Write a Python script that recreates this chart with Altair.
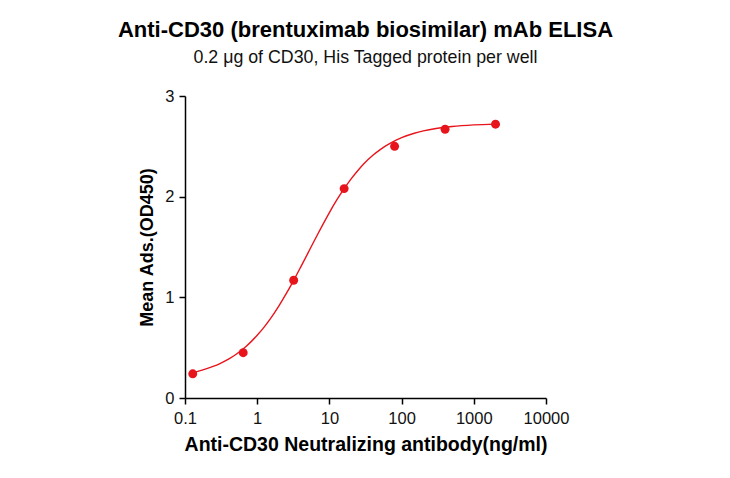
import altair as alt
import pandas as pd

# measured points (5-fold dilution series)
conc = [0.128, 0.64, 3.2, 16, 80, 400, 2000]
od = [0.24, 0.45, 1.17, 2.08, 2.50, 2.67, 2.72]
err = [0.04, 0.02, 0.02, 0.02, 0.02, 0.01, 0.01]

# fitted curve
curve_x = [0.128, 0.15, 0.2, 0.25, 0.3, 0.4, 0.5, 0.7, 1, 1.2, 1.5, 2, 2.5, 3, 4,
           5, 6, 7, 8, 10, 12, 15, 20, 25, 30, 40, 50, 70, 100, 150, 200, 300,
           500, 1000, 2000]
curve_y = [0.254, 0.265, 0.291, 0.316, 0.340, 0.386, 0.430, 0.512, 0.623, 0.689,
           0.781, 0.916, 1.032, 1.132, 1.30, 1.434, 1.545, 1.637, 1.715, 1.842,
           1.940, 2.05, 2.177, 2.263, 2.327, 2.411, 2.465, 2.531, 2.586, 2.630,
           2.653, 2.677, 2.697, 2.713, 2.721]

x_ticks = [0.1, 1, 10, 100, 1000, 10000]
y_ticks = [0, 1, 2, 3]

pts = pd.DataFrame({"x": conc, "y": od,
                    "lo": [v - e for v, e in zip(od, err)],
                    "hi": [v + e for v, e in zip(od, err)]})
cur = pd.DataFrame({"x": curve_x, "y": curve_y})

FONT = "Liberation Sans"
RED = "#e8141c"

xs = alt.Scale(type="log", domain=[0.1, 10000])
ys = alt.Scale(domain=[0, 3])

xaxis = alt.Axis(values=x_ticks, labelExpr="format(datum.value, '~g')",
                 title="Anti-CD30 Neutralizing antibody(ng/ml)", grid=False,
                 domainColor="#000", domainWidth=1.5, tickColor="#000",
                 tickWidth=1.5, tickSize=6, labelFontSize=16.5, labelColor="#111",
                 labelFont=FONT, titleFont=FONT, titleFontSize=19.5,
                 titleFontWeight="bold", titleColor="#000", labelPadding=6,
                 titlePadding=9, labelFlush=False, labelOverlap=False)
yaxis = alt.Axis(values=y_ticks, format="d", title="Mean Ads.(OD450)", grid=False,
                 domainColor="#000", domainWidth=1.5, tickColor="#000",
                 tickWidth=1.5, tickSize=6, labelFontSize=16.5, labelColor="#111",
                 labelFont=FONT, titleFont=FONT, titleFontSize=18,
                 titleFontWeight="bold", titleColor="#000", labelPadding=5,
                 titlePadding=8)

line = alt.Chart(cur).mark_line(color=RED, strokeWidth=1.4, interpolate="monotone").encode(
    x=alt.X("x:Q", scale=xs, axis=xaxis),
    y=alt.Y("y:Q", scale=ys, axis=yaxis),
)
bars = alt.Chart(pts).mark_rule(color=RED, strokeWidth=1.5).encode(
    x="x:Q", y="lo:Q", y2="hi:Q")
dots = alt.Chart(pts).mark_point(filled=True, color=RED, size=80, opacity=1).encode(
    x="x:Q", y="y:Q")

chart = (line + bars + dots).properties(
    width=361, height=302,
    title=alt.TitleParams(
        text="Anti-CD30 (brentuximab biosimilar) mAb ELISA",
        subtitle="0.2 μg of CD30, His Tagged protein per well\u00a0\u00a0\u00a0\u00a0",
        font=FONT, fontSize=22, fontWeight="bold", color="#000",
        subtitleFont=FONT, subtitleFontSize=17.8, subtitleColor="#111",
        subtitlePadding=7, anchor="middle", offset=20),
    autosize=alt.AutoSizeParams(type="none"),
    padding={"left": 177, "top": 88, "right": 170, "bottom": 70},
    background="white",
).configure_view(strokeWidth=0, stroke=None)

chart.save("out.html", embed_options={"renderer": "svg", "actions": False})
